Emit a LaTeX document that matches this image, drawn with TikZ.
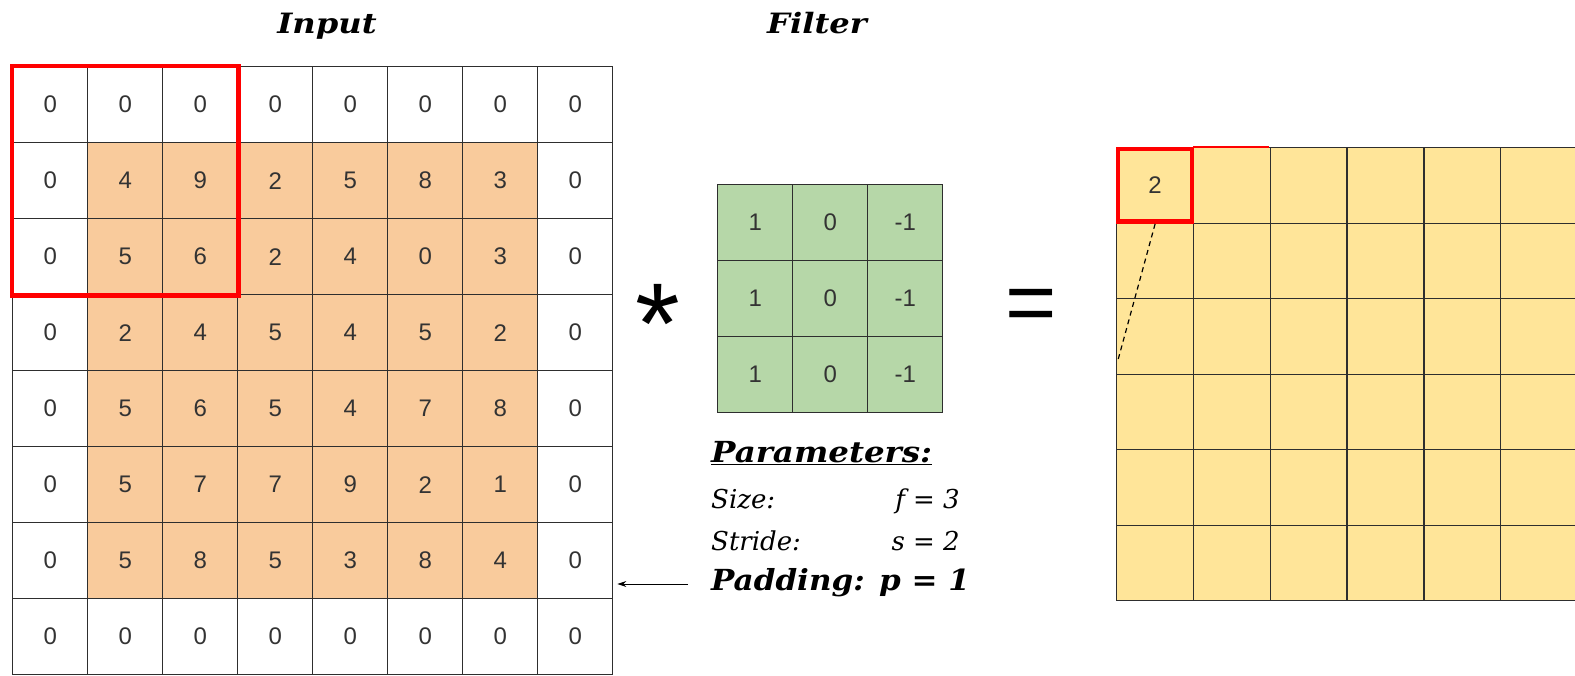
\documentclass[tikz,border=0pt]{standalone}
\usepackage{fontspec}
\setmainfont{DejaVu Serif}
\newfontfamily\numfont{Liberation Sans}
\usetikzlibrary{arrows.meta}
\definecolor{inorange}{HTML}{F9CB9C}
\definecolor{filtgreen}{HTML}{B6D7A8}
\definecolor{outyellow}{HTML}{FFE599}
\definecolor{gridline}{HTML}{2E2E2E}
\definecolor{numgray}{HTML}{333333}
\tikzset{
  cell/.style={draw=gridline, line width=1.4pt, minimum width=75pt, minimum height=76pt,
    inner sep=0pt, anchor=north west, font=\numfont\fontsize{24}{24}\selectfont, text=numgray},
  ocell/.style={cell, minimum width=76.8pt, minimum height=75.5pt, fill=outyellow},
  title/.style={font=\fontsize{28}{28}\selectfont\bfseries\itshape, anchor=base, xscale=1.15},
  param/.style={font=\fontsize{26}{26}\selectfont\itshape, anchor=base west, inner sep=0pt},
  bparam/.style={param, font=\fontsize{29}{29}\selectfont\bfseries\itshape},
  redbox/.style={draw=red, line width=4.5pt},
}
\begin{document}
\begin{tikzpicture}[x=1pt,y=-1pt]
\useasboundingbox (0,0) rectangle (1575,675);
% input grid
\foreach \r/\row in {1/{0,0,0,0,0,0,0,0},2/{0,4,9,2,5,8,3,0},3/{0,5,6,2,4,0,3,0},4/{0,2,4,5,4,5,2,0},5/{0,5,6,5,4,7,8,0},6/{0,5,7,7,9,2,1,0},7/{0,5,8,5,3,8,4,0},8/{0,0,0,0,0,0,0,0}}{
  \foreach \v [count=\c] in \row {
    \pgfmathtruncatemacro{\inner}{(\r>1)&&(\r<8)&&(\c>1)&&(\c<8)}
    \ifnum\inner=1
      \node[cell, fill=inorange] (in-\r-\c) at ({12+(\c-1)*75},{66+(\r-1)*76}) {\v};
    \else
      \node[cell, fill=white] (in-\r-\c) at ({12+(\c-1)*75},{66+(\r-1)*76}) {\v};
    \fi
  }
}
\draw[redbox] (in-1-1.north west) rectangle (in-3-3.south east);
% titles
\node[title] (tinput) at (327,33) {Input};
\node[title] (tfilter) at (817,33) {Filter};
% filter
\foreach \r in {1,2,3}{
  \foreach \v [count=\c] in {1,0,-1}{
    \node[cell, fill=filtgreen] (f-\r-\c) at ({717+(\c-1)*75},{184+(\r-1)*76}) {\v};
  }
}
% operators
\node[font=\numfont\fontsize{115}{115}\selectfont, inner sep=0pt] (star) at (658,324) {*};
\node[font=\numfont\fontsize{88}{88}\selectfont, inner sep=0pt] (eq) at (1031,311) {=};
% output grid
\foreach \r in {1,...,6}{
  \foreach \c in {1,...,6}{
    \node[ocell] (o-\r-\c) at ({1116+(\c-1)*76.8},{147+(\r-1)*75.5}) {};
  }
}
\node[font=\numfont\fontsize{24}{24}\selectfont, text=numgray] (oval) at (o-1-1.center) {2};
\draw[redbox] ([xshift=2.2pt,yshift=-2.2pt]o-1-1.north west) rectangle ([xshift=-2.2pt,yshift=2.2pt]o-1-1.south east);
\draw[red, line width=2pt] (o-1-2.north west) -- ([xshift=-2pt]o-1-2.north east);
\coordinate (dashend) at (1118,360);
\draw[dashed, line width=1.2pt, dash pattern=on 5pt off 4pt] (o-1-1.south) -- (dashend);
% parameters
\node[bparam, xscale=1.12] (ptitle) at (711,462) {\underline{Parameters:}};
\node[param] (psize) at (711,508) {Size:};
\node[param, anchor=base east] (pf) at (960,508) {f = 3};
\node[param] (pstride) at (711,550) {Stride:};
\node[param, anchor=base east] (ps) at (960,550) {s = 2};
\node[bparam, xscale=1.07] (ppad) at (711,590) {Padding: p = 1};
\coordinate (arrstart) at (688,584);
\draw[-{Stealth[length=9pt,width=6pt]}, line width=1pt] (arrstart) -- ([xshift=4pt]in-7-8.east |- arrstart);
\end{tikzpicture}
\end{document}
